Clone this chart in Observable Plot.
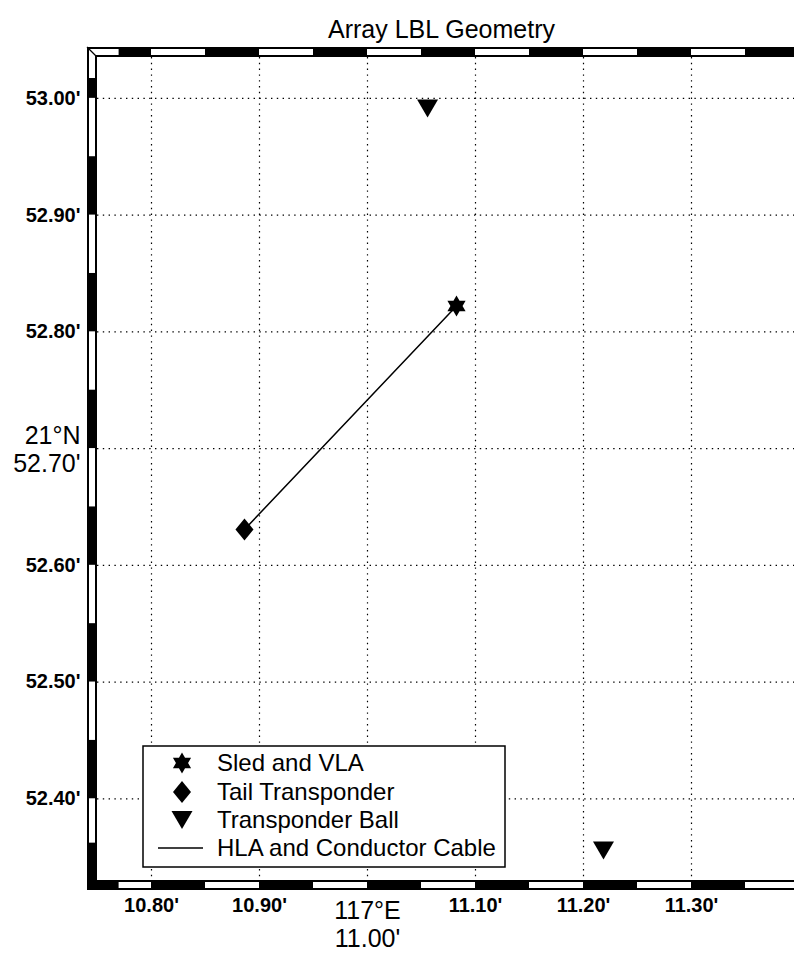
<!DOCTYPE html>
<html><head><meta charset="utf-8">
<script src="https://cdn.jsdelivr.net/npm/d3@7"></script>
<script src="https://cdn.jsdelivr.net/npm/@observablehq/plot@0.6"></script>
<style>
html,body{margin:0;padding:0;background:#fff;overflow:hidden;width:794px;height:953px}
#chart svg{display:block;max-width:none !important}
</style></head><body><div id="chart"></div>
<script>
// ---- data ----
const title = "Array LBL Geometry";
const xTicks = [10.80, 10.90, 11.00, 11.10, 11.20, 11.30];
const xTickLabels = ["10.80'", "10.90'", "117°E\n11.00'", "11.10'", "11.20'", "11.30'"];
const yTicks = [53.00, 52.90, 52.80, 52.70, 52.60, 52.50, 52.40];
const yTickLabels = ["53.00'", "52.90'", "52.80'", "21°N\n52.70'", "52.60'", "52.50'", "52.40'"];
const majorX = 11.00, majorY = 52.70;
const seriesNames = ["Sled and VLA", "Tail Transponder", "Transponder Ball", "HLA and Conductor Cable"];
const sledLon = [11.0824], sledLat = [52.8221];
const tailLon = [10.8861], tailLat = [52.6307];
const ballLon = [11.0556, 11.2185], ballLat = [52.9913, 52.3557];
const cableLon = [10.8861, 11.0824], cableLat = [52.6307, 52.8221];
const xDomain = [10.75, 11.40], yDomain = [52.33, 53.035];
// frame (fancy box) white pieces, in minutes
const topWhite = [[10.75, 10.77], [10.80, 10.85], [10.90, 10.95], [11.00, 11.05], [11.10, 11.15], [11.20, 11.25], [11.30, 11.35]];
const bottomWhite = [[10.77, 10.80], [10.85, 10.90], [10.95, 11.00], [11.05, 11.10], [11.15, 11.20], [11.25, 11.30], [11.35, 11.40]];
const leftWhite = [[53.017, 53.035], [52.95, 53.00], [52.85, 52.90], [52.75, 52.80], [52.65, 52.70], [52.55, 52.60], [52.45, 52.50], [52.362, 52.40]];

const toRows = (xs, ys) => xs.map((x, i) => ({x, y: ys[i]}));
const sled = toRows(sledLon, sledLat), tail = toRows(tailLon, tailLat);
const balls = toRows(ballLon, ballLat), cable = toRows(cableLon, cableLat);
const labelOf = (ticks, labels) => d => labels[ticks.indexOf(d)];

// ---- symbols ----
const hexagram = {draw(ctx, size) {
  const R = Math.sqrt(size / Math.PI), r = R / Math.sqrt(3);
  for (let k = 0; k < 12; k++) {
    const a = -Math.PI / 2 + k * Math.PI / 6, rr = k % 2 ? r : R;
    const px = rr * Math.cos(a), py = rr * Math.sin(a);
    k ? ctx.lineTo(px, py) : ctx.moveTo(px, py);
  }
  ctx.closePath();
}};
const diamond = {draw(ctx, size) {
  const R = Math.sqrt(size / Math.PI), w = R * 0.82;
  ctx.moveTo(0, -R); ctx.lineTo(w, 0); ctx.lineTo(0, R); ctx.lineTo(-w, 0); ctx.closePath();
}};
const triDown = {draw(ctx, size) {
  const R = Math.sqrt(size / Math.PI), h = R * 0.86;
  ctx.moveTo(-R, -h); ctx.lineTo(R, -h); ctx.lineTo(0, h); ctx.closePath();
}};

const FONT = "'Liberation Sans', Arial, Helvetica, sans-serif";
const W = 820, H = 953, mL = 97, mR = 21, mT = 57, mB = 73, T = 10;

function getScales(scales, dims) {
  const sx = scales && typeof scales.x === "function" ? scales.x : d3.scaleLinear(xDomain, [dims.marginLeft, dims.width - dims.marginRight]);
  const sy = scales && typeof scales.y === "function" ? scales.y : d3.scaleLinear(yDomain, [dims.height - dims.marginBottom, dims.marginTop]);
  return {sx, sy};
}

function frameMark(index, scales, values, dims) {
  const {sx, sy} = getScales(scales, dims);
  const L = sx(xDomain[0]), R = sx(xDomain[1]), Tp = sy(yDomain[1]), B = sy(yDomain[0]);
  const g = d3.create("svg:g");
  const rect = (x0, y0, x1, y1, fill) => g.append("rect")
    .attr("x", Math.min(x0, x1)).attr("y", Math.min(y0, y1))
    .attr("width", Math.abs(x1 - x0)).attr("height", Math.abs(y1 - y0)).attr("fill", fill);
  rect(L - T, Tp - T, R + T, Tp, "black");
  rect(L - T, B, R + T, B + T, "black");
  rect(L - T, Tp - T, L, B + T, "black");
  rect(R, Tp - T, R + T, B + T, "black");
  const i = 2;
  topWhite.forEach(([a, b], k) => rect(k === 0 ? L - T + i : sx(a), Tp - T + i, sx(b), Tp - i, "white"));
  bottomWhite.forEach(([a, b]) => rect(sx(a), B + i, sx(b), B + T - i, "white"));
  leftWhite.forEach(([a, b], k) => rect(L - T + i, k === 0 ? Tp - T + i : sy(b), L - i, sy(a), "white"));
  g.append("line").attr("x1", L - T).attr("y1", Tp - T).attr("x2", L).attr("y2", Tp)
    .attr("stroke", "black").attr("stroke-width", 1.2);
  return g.node();
}

function legendMark(index, scales, values, dims) {
  const x0 = dims.marginLeft + 46, y0 = dims.height - dims.marginBottom - 134;
  const w = 362, h = 121;
  const g = d3.create("svg:g");
  g.append("rect").attr("x", x0).attr("y", y0).attr("width", w).attr("height", h)
    .attr("fill", "white").attr("stroke", "black").attr("stroke-width", 1.5);
  const rows = [17, 46, 74, 102];
  const syms = [[hexagram, 10.5], [diamond, 11], [triDown, 10.5]];
  const cx = x0 + 39;
  syms.forEach(([s, r], k) => {
    const p = d3.path(); s.draw(p, r * r * Math.PI);
    g.append("path").attr("d", p.toString()).attr("fill", "black")
      .attr("transform", `translate(${cx},${y0 + rows[k]})`);
  });
  g.append("line").attr("x1", cx - 24).attr("x2", cx + 21)
    .attr("y1", y0 + rows[3]).attr("y2", y0 + rows[3]).attr("stroke", "black").attr("stroke-width", 1.4);
  seriesNames.forEach((name, k) => {
    g.append("text").attr("x", x0 + 74).attr("y", y0 + rows[k]).attr("dy", "0.35em")
      .attr("text-anchor", "start")
      .attr("font-family", FONT).attr("font-size", 24).attr("fill", "black").text(name);
  });
  return g.node();
}

const minorX = xTicks.filter(d => d !== majorX), minorY = yTicks.filter(d => d !== majorY);

const chart = Plot.plot({
  width: W, height: H,
  marginLeft: mL, marginRight: mR, marginTop: mT, marginBottom: mB,
  style: {fontFamily: FONT, background: "white", maxWidth: "none"},
  x: {domain: xDomain, axis: null},
  y: {domain: yDomain, axis: null},
  marks: [
    Plot.ruleX(xTicks, {stroke: "black", strokeWidth: 1.2, strokeDasharray: "1.4,4.4"}),
    Plot.ruleY(yTicks, {stroke: "black", strokeWidth: 1.2, strokeDasharray: "1.4,4.4"}),
    Plot.line(cable, {x: "x", y: "y", stroke: "black", strokeWidth: 1.5}),
    Plot.dot(sled, {x: "x", y: "y", symbol: hexagram, r: 10.5, fill: "black", stroke: null}),
    Plot.dot(tail, {x: "x", y: "y", symbol: diamond, r: 11, fill: "black", stroke: null}),
    Plot.dot(balls, {x: "x", y: "y", symbol: triDown, r: 10.5, fill: "black", stroke: null}),
    legendMark,
    frameMark,
    Plot.text(minorX, {x: d => d, frameAnchor: "bottom", dy: 17, lineAnchor: "top",
      text: labelOf(xTicks, xTickLabels), fontWeight: "bold", fontSize: 20, fill: "black"}),
    Plot.text([majorX], {x: d => d, frameAnchor: "bottom", dy: 19, lineAnchor: "top", lineHeight: 1.1,
      text: labelOf(xTicks, xTickLabels), fontSize: 25, fill: "black"}),
    Plot.text(minorY, {y: d => d, frameAnchor: "left", dx: -17, textAnchor: "end",
      text: labelOf(yTicks, yTickLabels), fontWeight: "bold", fontSize: 20, fill: "black"}),
    Plot.text([majorY], {y: d => d, frameAnchor: "left", dx: -17, textAnchor: "end", lineHeight: 1.12,
      text: labelOf(yTicks, yTickLabels), fontSize: 25, fill: "black"}),
    Plot.text([title], {frameAnchor: "top", dx: -7, dy: -37, fontSize: 25, fill: "black"})
  ]
});
document.getElementById("chart").appendChild(chart);
</script></body></html>
